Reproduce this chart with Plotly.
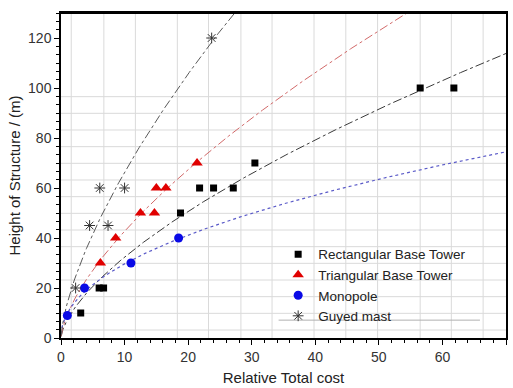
import numpy as np
import plotly.graph_objects as go

# Relative total cost vs. height of structure for four tower types
rect_cost = [3.1, 6.0, 6.7, 18.8, 21.8, 24.0, 27.1, 30.5, 56.5, 61.8]
rect_height = [10, 20, 20, 50, 60, 60, 60, 70, 100, 100]

tri_cost = [6.2, 8.6, 12.5, 14.7, 15.0, 16.5, 21.4]
tri_height = [30, 40, 50, 50, 60, 60, 70]

mono_cost = [1.0, 3.7, 11.0, 18.5]
mono_height = [9, 20, 30, 40]

guyed_cost = [2.3, 4.5, 6.1, 7.4, 10.0, 23.7]
guyed_height = [20, 45, 60, 45, 60, 120]

x_ticks = [0, 10, 20, 30, 40, 50, 60, 70]
y_ticks = [0, 20, 40, 60, 80, 100, 120]


def power_fit(x, y):
    """Least-squares fit of y = a * x**b (log start, Gauss-Newton refine)."""
    x = np.asarray(x, float)
    y = np.asarray(y, float)
    b, ln_a = np.polyfit(np.log(x), np.log(y), 1)
    a = float(np.exp(ln_a))
    for _ in range(200):
        f = a * x ** b
        J = np.column_stack([x ** b, a * x ** b * np.log(x)])
        step, *_ = np.linalg.lstsq(J, y - f, rcond=None)
        a += step[0]
        b += step[1]
        if np.max(np.abs(step)) < 1e-12:
            break
    return a, b


x_fit = np.concatenate([np.geomspace(0.02, 1, 40), np.linspace(1, 70, 300)])

series = [
    dict(name="Rectangular Base Tower", x=rect_cost, y=rect_height,
         marker=dict(symbol="square", size=7, color="#000000"),
         line=dict(color="#3a3a3a", dash="dashdot", width=1)),
    dict(name="Triangular Base Tower", x=tri_cost, y=tri_height,
         marker=dict(symbol="triangle-up", size=10, color="#e00000"),
         line=dict(color="#d26a6a", dash="dashdot", width=1)),
    dict(name="Monopole", x=mono_cost, y=mono_height,
         marker=dict(symbol="circle", size=9, color="#0a0ae6"),
         line=dict(color="#5a5ac8", dash="dot", width=1.2)),
    dict(name="Guyed mast", x=guyed_cost, y=guyed_height,
         marker=dict(symbol="asterisk-open", size=9, color="#333333",
                     line=dict(width=1, color="#333333")),
         line=dict(color="#5a5a5a", dash="dashdot", width=1)),
]

fig = go.Figure()

# fitted power-law trend lines
for s in series:
    a, b = power_fit(s["x"], s["y"])
    fig.add_trace(go.Scatter(x=x_fit, y=a * x_fit ** b, mode="lines",
                             line=s["line"], showlegend=False,
                             hoverinfo="skip"))

# measured points
for s in series:
    fig.add_trace(go.Scatter(x=s["x"], y=s["y"], mode="markers",
                             name=s["name"], marker=s["marker"]))

# light background grid
grid_x = [1.61, 6.74, 11.7, 18.3, 23.2, 28.3, 33.2, 39.8, 44.8, 49.8, 56.5, 61.4, 66.4]
grid_y = [3.2 + 6.667 * k for k in range(15)]
shapes = []
for gx in grid_x:
    shapes.append(dict(type="line", xref="x", yref="paper", x0=gx, x1=gx,
                       y0=0, y1=1, layer="below",
                       line=dict(color="#dadada", width=1)))
for gy in grid_y:
    shapes.append(dict(type="line", xref="paper", yref="y", x0=0, x1=1,
                       y0=gy, y1=gy, layer="below",
                       line=dict(color="#dadada", width=1)))
# rule under the legend
shapes.append(dict(type="line", xref="paper", yref="paper", x0=0.489, x1=0.9415,
                   y0=0.055, y1=0.055, line=dict(color="#b0b0b0", width=1)))
# heavier top frame
shapes.append(dict(type="line", xref="paper", yref="paper", x0=0, x1=1,
                   y0=1, y1=1, line=dict(color="#000000", width=2.2)))

axis_common = dict(
    showline=True, linecolor="#000000", linewidth=1.5, mirror=True,
    showgrid=False, zeroline=False, automargin=False,
    ticks="outside", ticklen=5, tickwidth=1, tickcolor="#000000",
    tickfont=dict(family="Liberation Sans, Arial, sans-serif", size=14, color="#333333"),
)

fig.update_layout(
    width=513, height=388,
    margin=dict(l=61, r=7, t=13, b=50),
    plot_bgcolor="#ffffff", paper_bgcolor="#ffffff",
    font=dict(family="Liberation Sans, Arial, sans-serif", color="#222222"),
    shapes=shapes,
    xaxis=dict(range=[0, 70], tickvals=x_ticks,
               minor=dict(dtick=2, ticks="outside", ticklen=3, tickcolor="#000000"),
               title=dict(text="Relative Total cost", font=dict(size=15), standoff=9),
               **axis_common),
    yaxis=dict(range=[0, 130], tickvals=y_ticks,
               minor=dict(dtick=20 / 6, ticks="outside", ticklen=3, tickcolor="#000000"),
               title=dict(text="Height of Structure / (m)", font=dict(size=15), standoff=4),
               **axis_common),
    legend=dict(x=0.488, y=0.305, xanchor="left", yanchor="top",
                bgcolor="rgba(0,0,0,0)", font=dict(size=13.5, color="#222222"),
                tracegroupgap=0),
)

fig.write_html("out.html")
